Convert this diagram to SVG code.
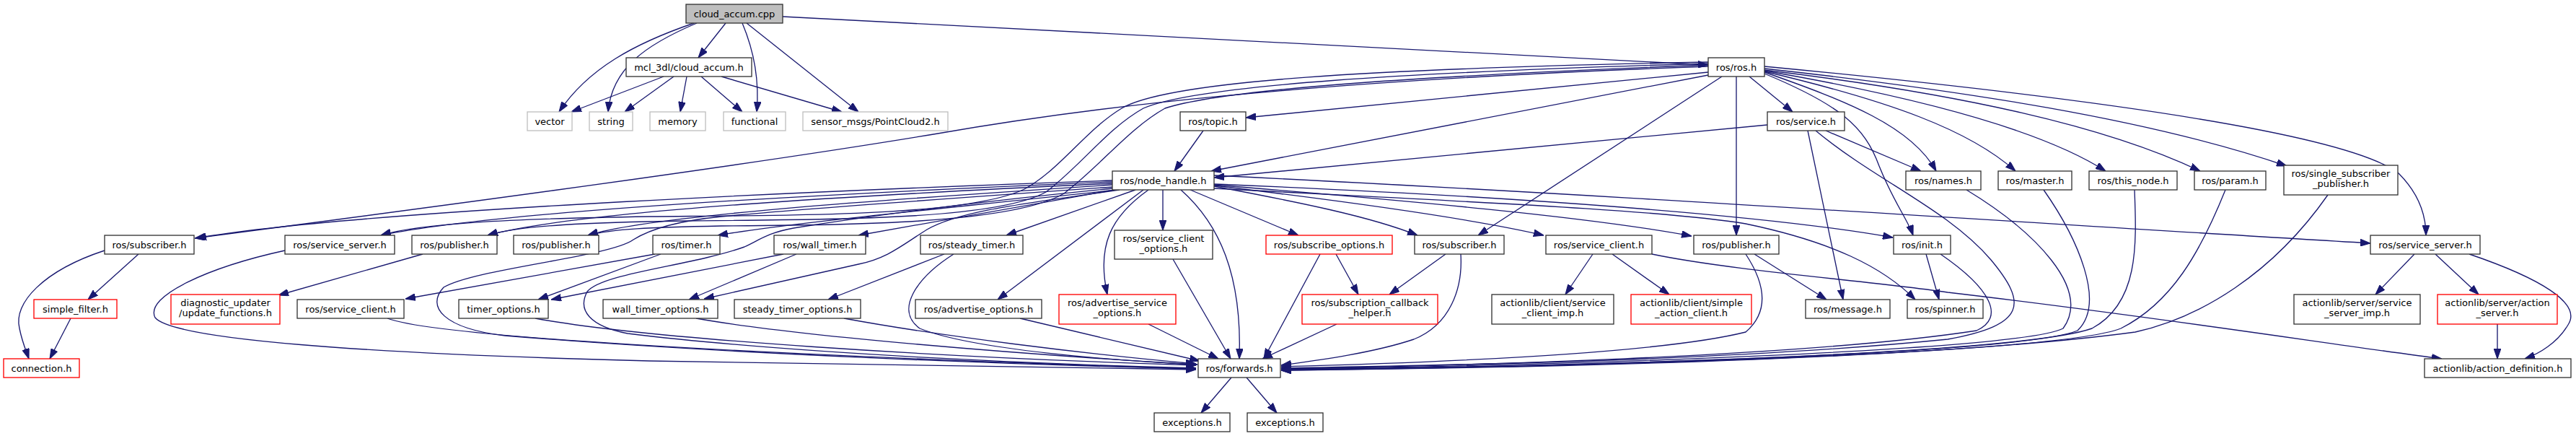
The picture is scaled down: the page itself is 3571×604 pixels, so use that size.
<svg xmlns="http://www.w3.org/2000/svg" width="3571" height="604" viewBox="0 0 3571 604">
<style>
rect{fill:#fff;stroke:#333;stroke-width:1.33}
rect.r{stroke:#f00}
rect.g{stroke:#bfbfbf}
rect.f{fill:#bfbfbf}
text{font-family:"DejaVu Sans","Liberation Sans",sans-serif;font-size:13px;text-anchor:middle;fill:#000}
#edges path{fill:none;stroke:#191970;stroke-width:1.33;marker-end:url(#ah)}
</style>
<defs>
<marker id="ah" markerUnits="userSpaceOnUse" markerWidth="14" markerHeight="10" refX="13" refY="4.5" orient="auto" viewBox="0 0 13 9">
<path d="M0,0 L13,4.5 L0,9 z" fill="#191970" stroke="#191970" stroke-width="1"/>
</marker>
</defs>
<rect x="0" y="0" width="3571" height="604" style="fill:#fff;stroke:none"/>
<g id="edges">
<path d="M1006,32 L968,80"/>
<path d="M1029,32 C1045,70 1053,110 1049,155"/>
<path d="M1035,32 L1190,155"/>
<path d="M1085,23 L2368,90"/>
<path d="M962,32 C880,60 815,95 775,155"/>
<path d="M966,32 C895,62 848,95 843,155"/>
<path d="M920,106 L792,155"/>
<path d="M934,106 L866,155"/>
<path d="M952,106 L943,155"/>
<path d="M972,106 L1029,155"/>
<path d="M1000,106 L1167,155"/>
<path d="M2368,100 L1727,163"/>
<path d="M2368,104 L1679,237"/>
<path d="M2450,173 L1683,246"/>
<path d="M2425,106 L2485,155"/>
<path d="M2387,106 L2049,326"/>
<path d="M2407,106 L2407,326"/>
<path d="M2446,102 C2550,145 2585,175 2605,230 C2625,280 2645,305 2652,326"/>
<path d="M2446,100 C2560,140 2650,175 2684,237"/>
<path d="M2531,181 L2663,237"/>
<path d="M2446,99 C2620,140 2730,180 2794,237"/>
<path d="M2446,98 C2660,135 2830,180 2919,237"/>
<path d="M2446,97 C2720,130 2920,175 3050,237"/>
<path d="M2446,95 C2720,125 2980,165 3170,230"/>
<path d="M2446,92 C2950,140 3260,190 3325,240 C3355,270 3363,300 3363,326"/>
<path d="M2368,92 C1800,112 1500,150 1300,185 C1000,235 500,300 270,330"/>
<path d="M2368,86 C1900,95 1620,112 1555,150 C1505,180 1470,235 1420,262 C1340,300 1100,298 900,300 C700,303 580,310 528,326"/>
<path d="M2368,88 C1950,100 1660,118 1585,150 C1535,178 1500,228 1450,266 C1380,305 1150,304 950,306 C820,308 720,312 676,326"/>
<path d="M2368,90 C2000,104 1700,122 1615,150 C1565,178 1525,230 1475,268 C1400,312 1150,312 1000,313 C900,315 850,317 815,326"/>
<path d="M1542,250 C1200,262 500,290 272,330"/>
<path d="M1542,252 C1200,266 700,290 528,326"/>
<path d="M1542,254 C1200,270 800,292 676,326"/>
<path d="M1542,256 C1250,275 900,298 815,326"/>
<path d="M1548,263 C1300,290 1100,308 995,326"/>
<path d="M1542,259 C1300,276 1080,292 1000,300 C950,305 905,315 878,332 C845,356 660,372 615,398 C590,425 615,455 700,465 C1000,490 1400,505 1658,511"/>
<path d="M1542,261 C1350,280 1200,300 1100,316 C1065,322 1050,334 1032,342 C960,368 835,378 814,404 C800,430 818,452 870,462 C1100,490 1450,505 1658,510"/>
<path d="M1545,263 L1190,326"/>
<path d="M1552,263 C1420,282 1330,292 1285,318 C1250,340 1230,358 1190,366 L976,414"/>
<path d="M1574,263 L1395,326"/>
<path d="M1585,263 L1383,415"/>
<path d="M1592,263 C1540,300 1520,340 1535,408"/>
<path d="M1612,263 L1612,319"/>
<path d="M1637,263 C1690,310 1722,380 1718,497"/>
<path d="M1650,263 L1800,326"/>
<path d="M1683,258 C1800,280 1900,300 1965,326"/>
<path d="M1683,257 C1900,283 2050,305 2140,326"/>
<path d="M1683,256 C1950,278 2200,300 2345,327"/>
<path d="M1683,255 C2100,272 2450,298 2624,329"/>
<path d="M1683,261 C2000,278 2300,290 2420,310 C2540,335 2610,370 2655,415"/>
<path d="M1683,243 C2200,268 2800,308 3286,337"/>
<path d="M192,352 L122,415"/>
<path d="M145,347 C60,375 18,420 27,455 C31,475 37,488 40,497"/>
<path d="M98,441 L69,497"/>
<path d="M395,347 C290,370 200,410 215,440 C240,470 500,490 900,500 C1200,505 1500,510 1658,512"/>
<path d="M586,352 L386,409"/>
<path d="M537,441 C600,465 1000,490 1658,511"/>
<path d="M916,352 L746,415"/>
<path d="M908,352 L562,414"/>
<path d="M1086,352 L764,415"/>
<path d="M1104,352 L955,415"/>
<path d="M1309,352 L1148,415"/>
<path d="M1322,352 C1270,385 1240,430 1275,455 C1350,485 1550,500 1660,505"/>
<path d="M742,441 C900,470 1300,495 1658,506"/>
<path d="M965,441 C1100,465 1400,490 1658,505"/>
<path d="M1170,441 C1300,465 1500,490 1658,504"/>
<path d="M1414,441 L1663,500"/>
<path d="M1592,449 L1689,497"/>
<path d="M1626,359 L1706,497"/>
<path d="M1830,352 L1752,497"/>
<path d="M1852,352 L1883,408"/>
<path d="M2004,352 L1926,408"/>
<path d="M2025,352 C2028,400 2010,450 1960,470 C1900,490 1820,500 1776,506"/>
<path d="M1853,449 L1750,497"/>
<path d="M2208,352 L2170,408"/>
<path d="M2235,352 L2314,408"/>
<path d="M2290,352 C2400,375 2600,390 2700,405 C3000,440 3250,480 3385,497"/>
<path d="M2432,352 L2532,415"/>
<path d="M2420,352 C2445,390 2455,430 2420,460 C2300,490 2000,502 1776,508"/>
<path d="M2506,181 L2555,415"/>
<path d="M2517,181 C2600,250 2700,290 2760,360 C2810,420 2810,450 2700,470 C2400,500 2000,506 1776,510"/>
<path d="M2670,352 L2688,415"/>
<path d="M2690,352 C2760,400 2780,440 2740,458 C2500,495 2000,507 1776,511"/>
<path d="M2726,263 C2820,320 2900,400 2860,455 C2800,485 2200,506 1776,511"/>
<path d="M2833,263 C2880,330 2920,420 2880,458 C2800,490 2200,507 1776,512"/>
<path d="M2959,263 C2962,340 2965,420 2900,455 C2800,490 2200,508 1776,512"/>
<path d="M3085,263 C3050,350 3010,420 2940,455 C2850,490 2200,508 1776,513"/>
<path d="M3227,270 C3150,380 3050,440 2960,460 C2700,495 2200,509 1776,513"/>
<path d="M3347,352 L3293,408"/>
<path d="M3376,352 L3436,408"/>
<path d="M3423,352 C3520,385 3580,420 3560,450 C3545,475 3520,490 3500,497"/>
<path d="M3462,449 L3462,497"/>
<path d="M1707,523 L1665,572"/>
<path d="M1728,523 L1770,572"/>
<path d="M1668,181 L1628,237"/>
</g>
<g id="n_cpp"><rect class="f" x="951" y="6" width="134" height="26"/><text x="1018" y="23.5">cloud_accum.cpp</text></g>
<g id="n_mcl"><rect x="868" y="80" width="174" height="26"/><text x="955" y="97.5">mcl_3dl/cloud_accum.h</text></g>
<g id="n_ros"><rect x="2368" y="80" width="78" height="26"/><text x="2407" y="97.5">ros/ros.h</text></g>
<g id="n_vector"><rect class="g" x="731" y="155" width="62" height="26"/><text x="762" y="172.5">vector</text></g>
<g id="n_string"><rect class="g" x="817" y="155" width="60" height="26"/><text x="847" y="172.5">string</text></g>
<g id="n_memory"><rect class="g" x="901" y="155" width="77" height="26"/><text x="939.5" y="172.5">memory</text></g>
<g id="n_functional"><rect class="g" x="1003" y="155" width="86" height="26"/><text x="1046" y="172.5">functional</text></g>
<g id="n_pc2"><rect class="g" x="1113" y="155" width="201" height="26"/><text x="1213.5" y="172.5">sensor_msgs/PointCloud2.h</text></g>
<g id="n_topic"><rect x="1636" y="155" width="91" height="26"/><text x="1681.5" y="172.5">ros/topic.h</text></g>
<g id="n_service"><rect x="2450" y="155" width="107" height="26"/><text x="2503.5" y="172.5">ros/service.h</text></g>
<g id="n_nh"><rect x="1542" y="237" width="141" height="26"/><text x="1612.5" y="254.5">ros/node_handle.h</text></g>
<g id="n_names"><rect x="2642" y="237" width="104" height="26"/><text x="2694" y="254.5">ros/names.h</text></g>
<g id="n_master"><rect x="2770" y="237" width="102" height="26"/><text x="2821" y="254.5">ros/master.h</text></g>
<g id="n_thisnode"><rect x="2896" y="237" width="122" height="26"/><text x="2957" y="254.5">ros/this_node.h</text></g>
<g id="n_param"><rect x="3042" y="237" width="99" height="26"/><text x="3091.5" y="254.5">ros/param.h</text></g>
<g id="n_ssp"><rect x="3166" y="229" width="158" height="41"/><text x="3245" y="245">ros/single_subscriber</text><text x="3245" y="259">_publisher.h</text></g>
<g id="n_subL"><rect x="145" y="326" width="124" height="26"/><text x="207" y="343.5">ros/subscriber.h</text></g>
<g id="n_ssL"><rect x="395" y="326" width="152" height="26"/><text x="471" y="343.5">ros/service_server.h</text></g>
<g id="n_pub1"><rect x="571" y="326" width="118" height="26"/><text x="630" y="343.5">ros/publisher.h</text></g>
<g id="n_pub2"><rect x="712" y="326" width="118" height="26"/><text x="771" y="343.5">ros/publisher.h</text></g>
<g id="n_timer"><rect x="905" y="326" width="93" height="26"/><text x="951.5" y="343.5">ros/timer.h</text></g>
<g id="n_wtimer"><rect x="1073" y="326" width="127" height="26"/><text x="1136.5" y="343.5">ros/wall_timer.h</text></g>
<g id="n_stimer"><rect x="1276" y="326" width="142" height="26"/><text x="1347" y="343.5">ros/steady_timer.h</text></g>
<g id="n_sco"><rect x="1545" y="319" width="136" height="40"/><text x="1613" y="334.5">ros/service_client</text><text x="1613" y="348.5">_options.h</text></g>
<g id="n_subopt"><rect class="r" x="1755" y="326" width="175" height="26"/><text x="1842.5" y="343.5">ros/subscribe_options.h</text></g>
<g id="n_subM"><rect x="1961" y="326" width="124" height="26"/><text x="2023" y="343.5">ros/subscriber.h</text></g>
<g id="n_scM"><rect x="2143" y="326" width="147" height="26"/><text x="2216.5" y="343.5">ros/service_client.h</text></g>
<g id="n_pub3"><rect x="2348" y="326" width="118" height="26"/><text x="2407" y="343.5">ros/publisher.h</text></g>
<g id="n_init"><rect x="2625" y="326" width="79" height="26"/><text x="2664.5" y="343.5">ros/init.h</text></g>
<g id="n_ssR"><rect x="3286" y="326" width="152" height="26"/><text x="3362" y="343.5">ros/service_server.h</text></g>
<g id="n_sf"><rect class="r" x="47" y="415" width="115" height="26"/><text x="104.5" y="432.5">simple_filter.h</text></g>
<g id="n_diag"><rect class="r" x="237" y="408" width="151" height="41"/><text x="312.5" y="424">diagnostic_updater</text><text x="312.5" y="438">/update_functions.h</text></g>
<g id="n_scL"><rect x="412" y="415" width="148" height="26"/><text x="486" y="432.5">ros/service_client.h</text></g>
<g id="n_topt"><rect x="636" y="415" width="124" height="26"/><text x="698" y="432.5">timer_options.h</text></g>
<g id="n_wtopt"><rect x="836" y="415" width="159" height="26"/><text x="915.5" y="432.5">wall_timer_options.h</text></g>
<g id="n_stopt"><rect x="1018" y="415" width="175" height="26"/><text x="1105.5" y="432.5">steady_timer_options.h</text></g>
<g id="n_advopt"><rect x="1269" y="415" width="175" height="26"/><text x="1356.5" y="432.5">ros/advertise_options.h</text></g>
<g id="n_advsrv"><rect class="r" x="1468" y="408" width="162" height="41"/><text x="1549" y="424">ros/advertise_service</text><text x="1549" y="438">_options.h</text></g>
<g id="n_sch"><rect class="r" x="1805" y="408" width="188" height="41"/><text x="1899" y="424">ros/subscription_callback</text><text x="1899" y="438">_helper.h</text></g>
<g id="n_scimp"><rect x="2068" y="408" width="169" height="41"/><text x="2152.5" y="424">actionlib/client/service</text><text x="2152.5" y="438">_client_imp.h</text></g>
<g id="n_sac"><rect class="r" x="2261" y="408" width="167" height="41"/><text x="2344.5" y="424">actionlib/client/simple</text><text x="2344.5" y="438">_action_client.h</text></g>
<g id="n_msg"><rect x="2503" y="415" width="117" height="26"/><text x="2561.5" y="432.5">ros/message.h</text></g>
<g id="n_spinner"><rect x="2644" y="415" width="105" height="26"/><text x="2696.5" y="432.5">ros/spinner.h</text></g>
<g id="n_ssimp"><rect x="3180" y="408" width="175" height="41"/><text x="3267.5" y="424">actionlib/server/service</text><text x="3267.5" y="438">_server_imp.h</text></g>
<g id="n_as"><rect class="r" x="3379" y="408" width="166" height="41"/><text x="3462" y="424">actionlib/server/action</text><text x="3462" y="438">_server.h</text></g>
<g id="n_conn"><rect class="r" x="5" y="497" width="105" height="26"/><text x="57.5" y="514.5">connection.h</text></g>
<g id="n_fwd"><rect x="1661" y="497" width="114" height="26"/><text x="1718" y="514.5">ros/forwards.h</text></g>
<g id="n_ad"><rect x="3361" y="497" width="203" height="26"/><text x="3462.5" y="514.5">actionlib/action_definition.h</text></g>
<g id="n_exc1"><rect x="1600" y="572" width="105" height="26"/><text x="1652.5" y="589.5">exceptions.h</text></g>
<g id="n_exc2"><rect x="1729" y="572" width="105" height="26"/><text x="1781.5" y="589.5">exceptions.h</text></g>
</svg>
